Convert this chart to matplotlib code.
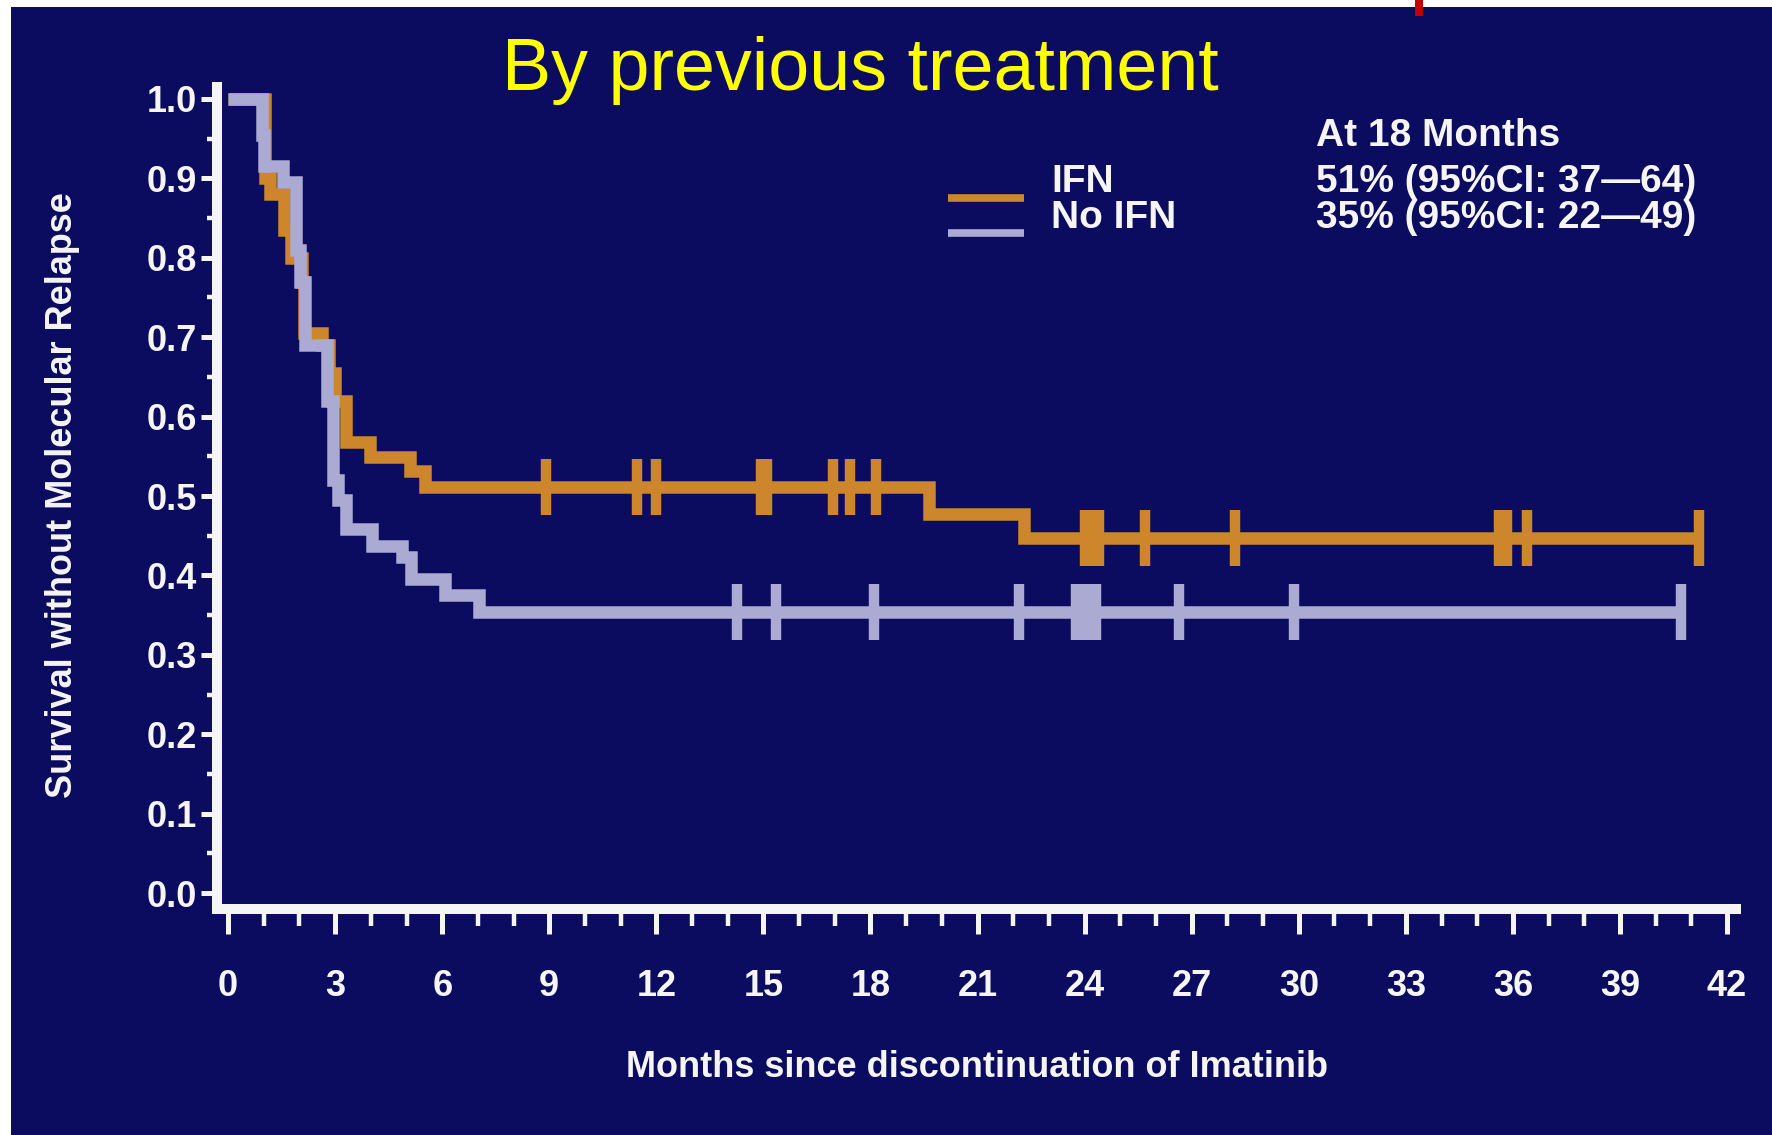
import numpy as np
import matplotlib
matplotlib.use("Agg")
import matplotlib.pyplot as plt
from matplotlib.lines import Line2D
from matplotlib.patches import Rectangle

# IFN group: months at each step and survival after the step
ifn_times = [0, 1.03, 1.18, 1.57, 1.75, 2.08, 2.12, 2.62, 2.83, 3.0, 3.3, 3.97, 5.1, 5.52, 19.65, 22.3]
ifn_surv = [1.0, 0.90, 0.88, 0.835, 0.80, 0.77, 0.705, 0.69, 0.655, 0.62, 0.568, 0.549, 0.531, 0.511, 0.477, 0.447]
ifn_end = 41.2
ifn_censor = [8.92, 11.45, 11.98, 14.93, 15.11, 16.95, 17.43, 18.15,
              24.0, 24.2, 24.4, 25.7, 28.2, 35.6, 35.84, 36.39, 41.2]

# No IFN group
noifn_times = [0, 0.96, 1.01, 1.55, 1.9, 2.02, 2.16, 2.77, 2.95, 3.08, 3.3, 4.02, 4.87, 5.12, 6.08, 7.04]
noifn_surv = [1.0, 0.955, 0.916, 0.895, 0.81, 0.77, 0.69, 0.62, 0.52, 0.495, 0.458, 0.437, 0.423, 0.396, 0.375, 0.354]
noifn_end = 40.7
noifn_censor = [14.25, 15.36, 18.1, 22.15, 23.76, 23.96, 24.14, 24.32, 26.63, 29.87, 40.7]

legend_labels = ["IFN", "No IFN"]
legend_stats = ["51% (95%CI: 37\u201464)", "35% (95%CI: 22\u201449)"]
stats_title = "At 18 Months"

navy = "#0B0C60"
orange = "#CD862B"
lavender = "#AAAAD2"
white = "#F5F5F5"

plt.rcParams['font.family'] = ['Liberation Sans', 'DejaVu Sans']

W, H = 1772, 1135
fig = plt.figure(figsize=(W / 100, H / 100), dpi=100)
fig.patch.set_facecolor("white")
fig.add_artist(Rectangle((11 / W, 0), 1 - 11 / W, 1 - 7 / H, transform=fig.transFigure,
                         facecolor=navy, edgecolor="none", zorder=0))
fig.add_artist(Rectangle((1415 / W, 1 - 16 / H), 8 / W, 16 / H, transform=fig.transFigure,
                         facecolor="#C00000", edgecolor="none", zorder=1))

ax = fig.add_axes([217 / W, 1 - 909 / H, (1736 - 217) / W, (909 - 87) / H])
ax.patch.set_visible(False)
ax.set_xlim(-0.31, 42.25)
ax.set_ylim(-0.02, 1.015)


def step_xy(times, surv, end):
    return list(times) + [end], list(surv) + [surv[-1]]


def surv_at(times, surv, t):
    idx = np.searchsorted(times, t, side="right") - 1
    return np.asarray(surv)[idx]


# curves
x, y = step_xy(ifn_times, ifn_surv, ifn_end)
ax.step(x, y, where="post", color=orange, lw=9, solid_joinstyle="miter", solid_capstyle="butt", zorder=3)
ax.plot(ifn_censor, surv_at(ifn_times, ifn_surv, ifn_censor), ls="none", marker="|",
        ms=40, mew=7.5, color=orange, zorder=3)

x, y = step_xy(noifn_times, noifn_surv, noifn_end)
ax.step(x, y, where="post", color=lavender, lw=9, solid_joinstyle="miter", solid_capstyle="butt", zorder=4)
ax.plot(noifn_censor, surv_at(noifn_times, noifn_surv, noifn_censor), ls="none", marker="|",
        ms=40, mew=7.5, color=lavender, zorder=4)

# axes styling
for side in ["top", "right"]:
    ax.spines[side].set_visible(False)
for side in ["left", "bottom"]:
    ax.spines[side].set_color(white)
    ax.spines[side].set_linewidth(7.2)
    ax.spines[side].set_capstyle("projecting")

ax.set_xticks(np.arange(0, 43, 3))
ax.set_xticks(np.arange(0, 43, 1), minor=True)
ax.set_yticks(np.round(np.arange(0, 1.01, 0.1), 1))
ax.set_yticks(np.round(np.arange(0, 1.01, 0.05), 2), minor=True)
ax.set_yticklabels([f"{v:.1f}" for v in np.arange(0, 1.01, 0.1)])

ax.tick_params(axis="x", which="major", length=18, width=3.6, color=white,
               labelcolor=white, labelsize=26, pad=25)
ax.tick_params(axis="x", which="minor", length=12, width=3.2, color=white)
ax.tick_params(axis="y", which="major", length=11.5, width=3.6, color=white,
               labelcolor=white, labelsize=26, pad=3)
ax.tick_params(axis="y", which="minor", length=7, width=3.2, color=white)
for lbl in ax.get_xticklabels() + ax.get_yticklabels():
    lbl.set_fontweight("bold")

ax.set_xlabel("Months since discontinuation of Imatinib", color=white, fontsize=26, fontweight="bold")
ax.xaxis.set_label_coords(0.5, -0.2045)
ax.xaxis.label.set_verticalalignment("baseline")
ax.set_ylabel("Survival without Molecular Relapse", color=white, fontsize=26, fontweight="bold")
ax.yaxis.set_label_coords(-0.102, 0.503)
ax.yaxis.label.set_verticalalignment("center")

# title
fig.text(860 / W, 1 - 90 / H, "By previous treatment", ha="center", va="baseline",
         color="#FFFF00", fontsize=53)

# legend, drawn by hand
line_y = [198, 233]
text_y = [192, 228]
for col, ly in zip([orange, lavender], line_y):
    fig.add_artist(Line2D([948 / W, 1024 / W], [1 - ly / H, 1 - ly / H], transform=fig.transFigure,
                          color=col, lw=5.5, solid_capstyle="butt"))
for lab, stat, ty in zip(legend_labels, legend_stats, text_y):
    fig.text(1051 / W, 1 - ty / H, lab, ha="left", va="baseline", color=white,
             fontsize=28, fontweight="bold")
    fig.text(1316 / W, 1 - ty / H, stat, ha="left", va="baseline", color=white,
             fontsize=28, fontweight="bold")
fig.text(1316 / W, 1 - 146 / H, stats_title, ha="left", va="baseline", color=white,
         fontsize=28, fontweight="bold")

fig.savefig("out.png", dpi=100, facecolor=fig.get_facecolor())
